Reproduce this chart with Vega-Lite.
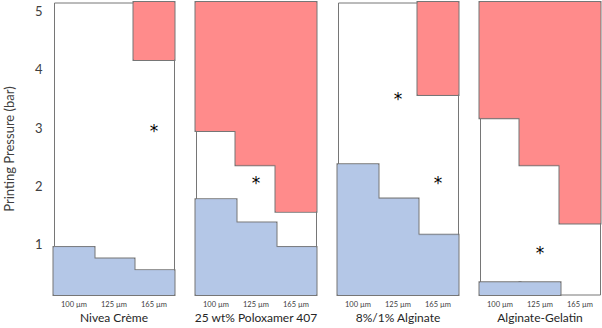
{
  "$schema": "https://vega.github.io/schema/vega-lite/v6.json",
  "padding": {"left": 3, "top": 0.5, "right": 0, "bottom": 0},
  "data": {"values": [
    {"material": "Nivea Crème", "size": "100 µm", "low": 0.95, "high": null, "star": null},
    {"material": "Nivea Crème", "size": "125 µm", "low": 0.75, "high": null, "star": null},
    {"material": "Nivea Crème", "size": "165 µm", "low": 0.55, "high": 4.18, "star": 3.0},
    {"material": "25 wt% Poloxamer 407", "size": "100 µm", "low": 1.77, "high": 2.96, "star": null},
    {"material": "25 wt% Poloxamer 407", "size": "125 µm", "low": 1.37, "high": 2.37, "star": 2.1},
    {"material": "25 wt% Poloxamer 407", "size": "165 µm", "low": 0.95, "high": 1.57, "star": null},
    {"material": "8%/1% Alginate", "size": "100 µm", "low": 2.37, "high": null, "star": null},
    {"material": "8%/1% Alginate", "size": "125 µm", "low": 1.78, "high": null, "star": 3.55},
    {"material": "8%/1% Alginate", "size": "165 µm", "low": 1.16, "high": 3.58, "star": 2.1},
    {"material": "Alginate-Gelatin", "size": "100 µm", "low": 0.34, "high": 3.18, "star": null},
    {"material": "Alginate-Gelatin", "size": "125 µm", "low": 0.34, "high": 2.37, "star": 0.9},
    {"material": "Alginate-Gelatin", "size": "165 µm", "low": null, "high": 1.37, "star": null}
  ]},
  "facet": {
    "column": {
      "field": "material", "type": "nominal",
      "sort": ["Nivea Crème", "25 wt% Poloxamer 407", "8%/1% Alginate", "Alginate-Gelatin"],
      "header": {"title": null, "labelOrient": "bottom", "labelFont": "Lato", "labelFontSize": 12, "labelColor": "#262626", "labelPadding": 5}
    }
  },
  "spacing": 18,
  "spec": {
    "width": 120,
    "height": 292,
    "encoding": {
      "x": {
        "field": "size", "type": "nominal",
        "sort": ["100 µm", "125 µm", "165 µm"],
        "scale": {"paddingInner": 0, "paddingOuter": 0},
        "axis": {"title": null, "labelAngle": 0, "ticks": false, "domain": false, "labelFontSize": 7.5, "labelFont": "Lato", "labelColor": "#404040", "labelPadding": 4}
      }
    },
    "layer": [
      {
        "transform": [{"filter": "isValid(datum.low)"}],
        "mark": {"type": "bar", "fill": "#B4C7E7", "stroke": "#767676", "strokeWidth": 3},
        "encoding": {
          "y": {"field": "low", "type": "quantitative",
            "scale": {"domain": [0.14, 5.16], "nice": false, "zero": false},
            "axis": {"title": "Printing Pressure (bar)", "values": [1, 2, 3, 4, 5], "format": "d", "ticks": false, "domain": false, "grid": false, "labelPadding": 10, "labelFontSize": 13, "labelFont": "Lato", "labelColor": "#404040", "titleFont": "Lato", "titleFontSize": 13, "titleFontWeight": "normal", "titleColor": "#404040", "titlePadding": 18}},
          "y2": {"datum": 0.14}
        }
      },
      {
        "transform": [{"filter": "isValid(datum.low)"}],
        "mark": {"type": "bar", "fill": "#B4C7E7", "stroke": "#B4C7E7", "strokeWidth": 1},
        "encoding": {"y": {"field": "low", "type": "quantitative"}, "y2": {"datum": 0.14}}
      },
      {
        "transform": [{"filter": "isValid(datum.high)"}],
        "mark": {"type": "bar", "fill": "#FF8B8B", "stroke": "#767676", "strokeWidth": 3},
        "encoding": {"y": {"field": "high", "type": "quantitative"}, "y2": {"datum": 5.16}}
      },
      {
        "transform": [{"filter": "isValid(datum.high)"}],
        "mark": {"type": "bar", "fill": "#FF8B8B", "stroke": "#FF8B8B", "strokeWidth": 1},
        "encoding": {"y": {"field": "high", "type": "quantitative"}, "y2": {"datum": 5.16}}
      },
      {
        "transform": [{"filter": "isValid(datum.star)"}],
        "mark": {"type": "text", "text": "*", "fontSize": 17, "font": "DejaVu Sans", "color": "#000000", "baseline": "middle", "dy": 4},
        "encoding": {"y": {"field": "star", "type": "quantitative"}}
      }
    ]
  },
  "config": {
    "view": {"stroke": "#767676", "strokeWidth": 1}
  }
}
